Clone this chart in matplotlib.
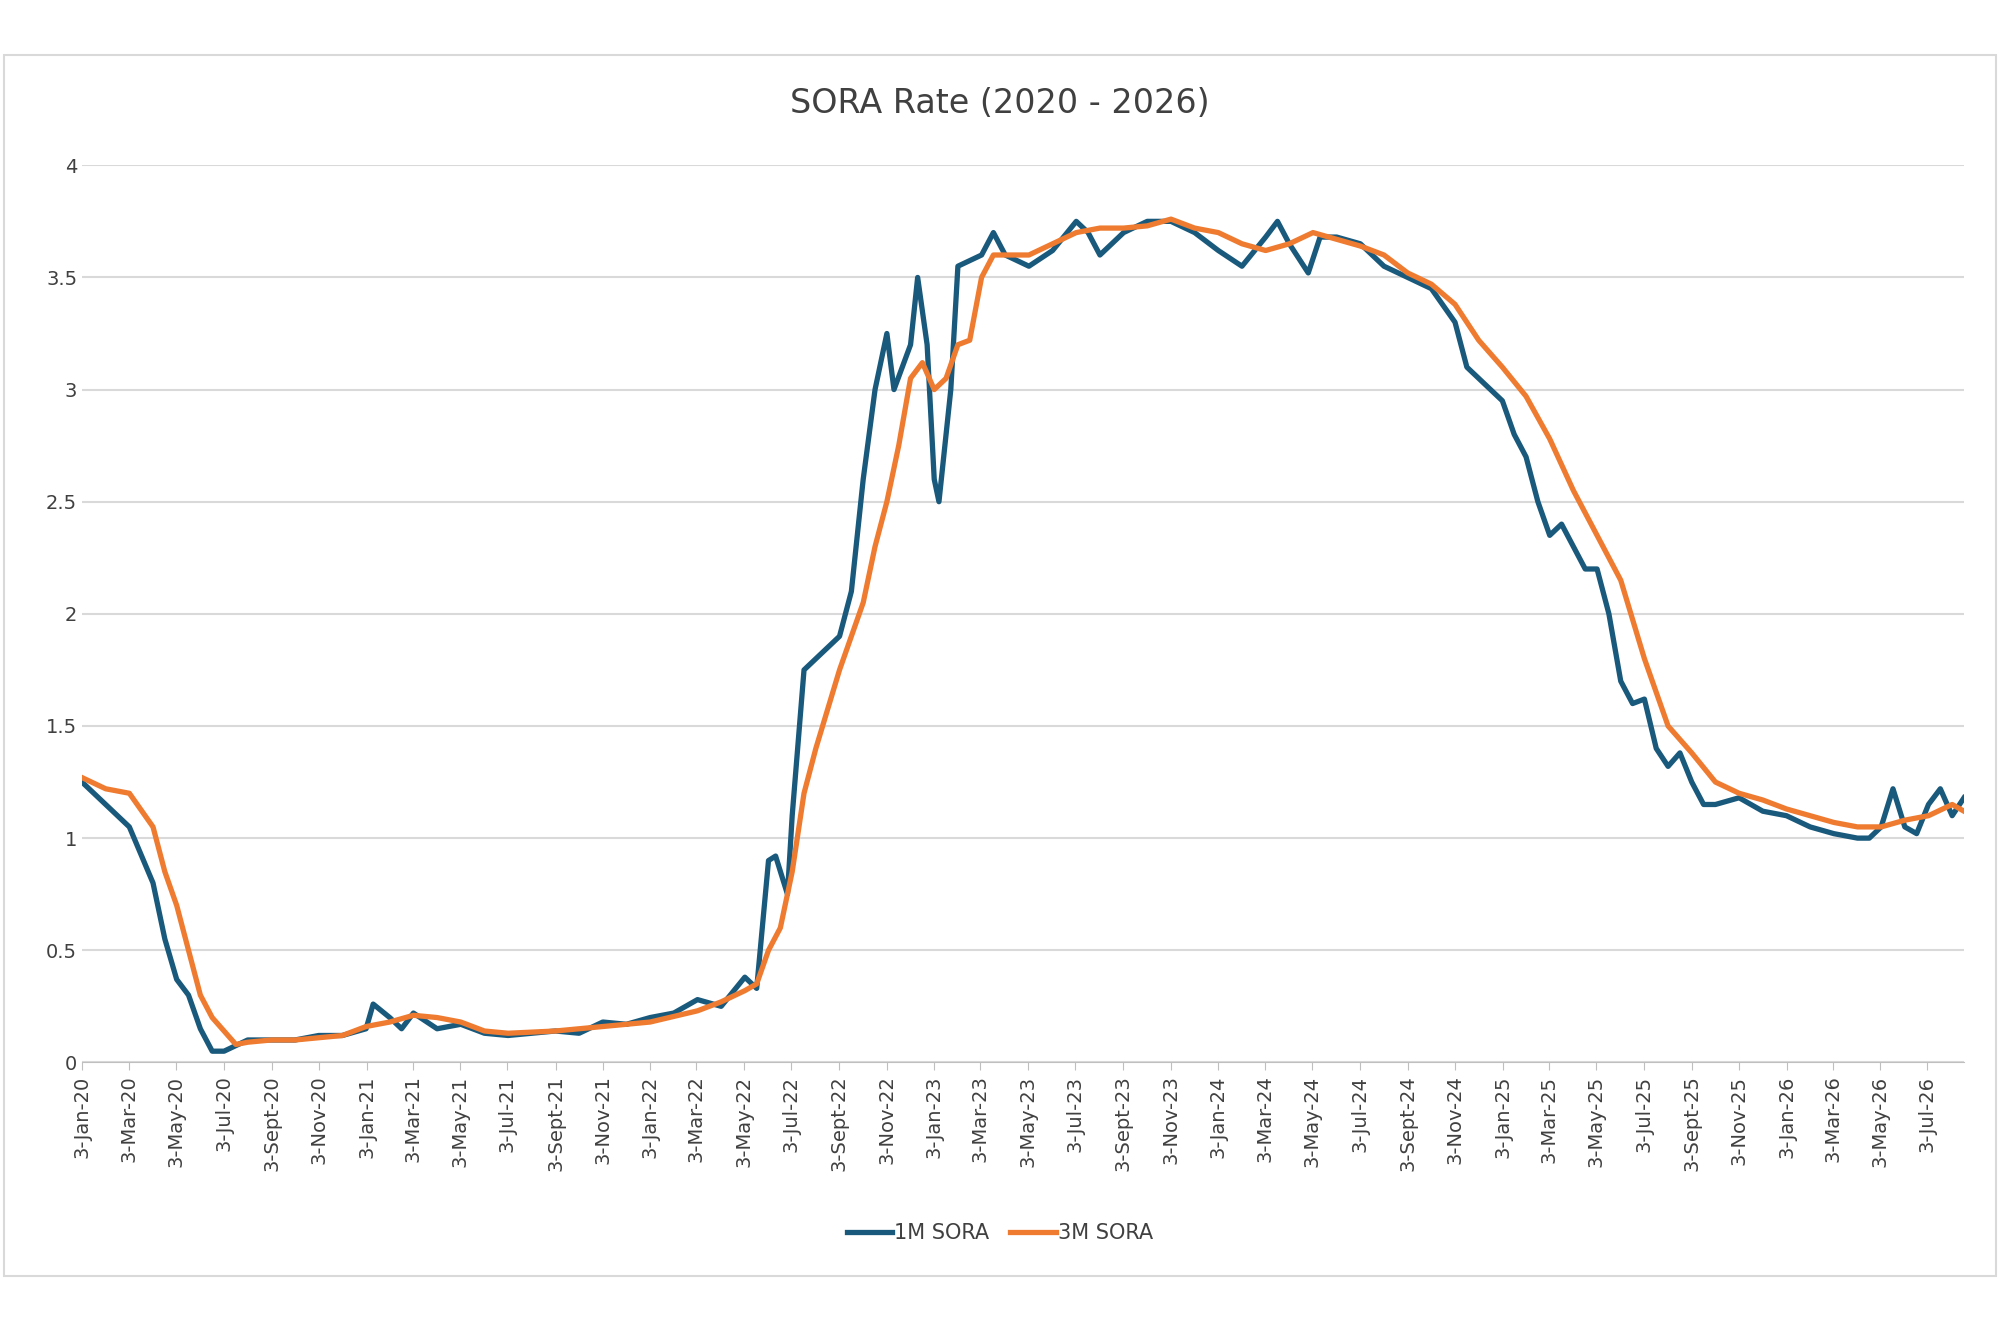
import matplotlib
matplotlib.use("Agg")
import matplotlib.pyplot as plt
import pandas as pd
import numpy as np
from matplotlib.patches import Rectangle

m1 = [0,1,2,3,3.5,4,4.5,5,5.5,6,7,8,9,10,11,12,12.3,13,13.5,14,15,16,17,18,19,20,21,22,23,24,25,26,27,28,28.5,29,29.3,29.8,30,30.5,31,32,32.5,33,33.5,34,34.3,35,35.3,35.7,36,36.2,36.7,37,38,38.5,39,40,41,42,42.5,43,44,45,46,47,48,49,50,50.5,51,51.8,52.3,53,54,55,56,57,58,58.5,59,59.5,60,60.5,61,61.5,62,62.5,63,63.5,64,64.5,65,65.5,66,66.5,67,67.5,68,68.5,69,70,71,72,73,74,75,75.5,76,76.5,77,77.5,78,78.5,79,79.5]
v1 = [1.25,1.15,1.05,0.8,0.55,0.37,0.3,0.15,0.05,0.05,0.1,0.1,0.1,0.12,0.12,0.15,0.26,0.2,0.15,0.22,0.15,0.17,0.13,0.12,0.13,0.14,0.13,0.18,0.17,0.2,0.22,0.28,0.25,0.38,0.33,0.9,0.92,0.75,1.1,1.75,1.8,1.9,2.1,2.6,3.0,3.25,3.0,3.2,3.5,3.2,2.6,2.5,3.0,3.55,3.6,3.7,3.6,3.55,3.62,3.75,3.7,3.6,3.7,3.75,3.75,3.7,3.62,3.55,3.68,3.75,3.65,3.52,3.68,3.68,3.65,3.55,3.5,3.45,3.3,3.1,3.05,3.0,2.95,2.8,2.7,2.5,2.35,2.4,2.3,2.2,2.2,2.0,1.7,1.6,1.62,1.4,1.32,1.38,1.25,1.15,1.15,1.18,1.12,1.1,1.05,1.02,1.0,1.0,1.05,1.22,1.05,1.02,1.15,1.22,1.1,1.18]
m3 = [0,1,2,3,3.5,4,4.5,5,5.5,6,6.5,7,8,9,10,11,12,13,14,15,16,17,18,20,22,24,26,27,28,28.5,29,29.5,30,30.5,31,32,32.5,33,33.5,34,34.5,35,35.5,36,36.5,37,37.5,38,38.5,39,40,41,42,43,44,45,46,47,48,49,50,51,52,53,54,55,56,57,58,59,60,61,62,63,64,65,66,67,68,69,70,71,72,73,74,75,76,77,78,79,79.5]
v3 = [1.27,1.22,1.2,1.05,0.85,0.7,0.5,0.3,0.2,0.14,0.08,0.09,0.1,0.1,0.11,0.12,0.16,0.18,0.21,0.2,0.18,0.14,0.13,0.14,0.16,0.18,0.23,0.27,0.32,0.35,0.5,0.6,0.85,1.2,1.4,1.75,1.9,2.05,2.3,2.5,2.75,3.05,3.12,3.0,3.05,3.2,3.22,3.5,3.6,3.6,3.6,3.65,3.7,3.72,3.72,3.73,3.76,3.72,3.7,3.65,3.62,3.65,3.7,3.67,3.64,3.6,3.52,3.47,3.38,3.22,3.1,2.97,2.78,2.55,2.35,2.15,1.8,1.5,1.38,1.25,1.2,1.17,1.13,1.1,1.07,1.05,1.05,1.08,1.1,1.15,1.12]

start = pd.Timestamp("2020-01-03")
def todate(ms):
    return [start + pd.Timedelta(days=m*30.44) for m in ms]

tick_dates = pd.date_range("2020-01-01", "2026-07-01", freq="2MS") + pd.Timedelta(days=2)
tick_labels = [f"{d.day}-{'Sept' if d.month==9 else d.strftime('%b')}-{d.strftime('%y')}" for d in tick_dates]

fig = plt.figure(figsize=(20, 13.33), dpi=100)
fig.patches.append(Rectangle((0.002, 0.043), 0.996, 0.916, transform=fig.transFigure,
                             fill=False, edgecolor="#d9d9d9", linewidth=1.5))
ax = fig.add_axes([0.041, 0.203, 0.941, 0.673])
ax.plot(todate(m1), v1, color="#19597C", lw=3.8, label="1M SORA", solid_joinstyle="round")
ax.plot(todate(m3), v3, color="#EE7B30", lw=3.8, label="3M SORA", solid_joinstyle="round")
ax.set_ylim(0, 4)
ax.set_xlim(start, start + pd.Timedelta(days=79.5*30.44))
ax.set_yticks(np.arange(0, 4.01, 0.5))
ax.set_yticklabels(["0","0.5","1","1.5","2","2.5","3","3.5","4"])
ax.set_xticks(tick_dates)
ax.set_xticklabels(tick_labels, rotation=90)
ax.tick_params(axis="both", labelsize=14, colors="#404040", length=0)
ax.tick_params(axis="x", length=6, color="#bfbfbf")
ax.grid(axis="y", color="#d9d9d9", lw=1.5)
for s in ["top", "right", "left"]:
    ax.spines[s].set_visible(False)
ax.spines["bottom"].set_color("#bfbfbf")
ax.set_axisbelow(True)
fig.text(0.5, 0.922, "SORA Rate (2020 - 2026)", ha="center", va="center", fontsize=24, color="#404040")
fig.legend(loc="center", bbox_to_anchor=(0.5, 0.075), ncol=2, frameon=False, fontsize=15,
           handlelength=2.2, columnspacing=1.0, handletextpad=0.1, labelcolor="#404040")
fig.savefig("out.png", dpi=100, facecolor="white")
